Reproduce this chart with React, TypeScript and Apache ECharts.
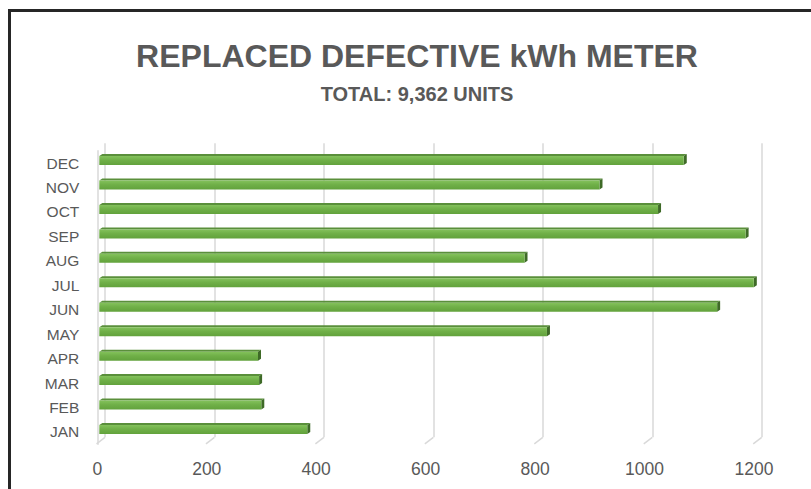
import React, { useEffect, useRef } from "react";
import * as echarts from "echarts";

const months = ["JAN", "FEB", "MAR", "APR", "MAY", "JUN", "JUL", "AUG", "SEP", "OCT", "NOV", "DEC"];
const units = [380, 296, 292, 290, 818, 1129, 1196, 777, 1181, 1021, 914, 1068];
const ticks = [0, 200, 400, 600, 800, 1000, 1200];
const titleText = "REPLACED DEFECTIVE kWh METER";
const subtitleText = "TOTAL: 9,362 UNITS";

const FONT = '"Liberation Sans", Arial, sans-serif';
const GRAY = "#595959";
const GRID_GRAY = "#d9d9d9";

export default function App() {
  const ref = useRef<HTMLDivElement>(null);
  useEffect(() => {
    if (!ref.current) return;
    const chart = echarts.init(ref.current, undefined, { renderer: "svg" });
    const depthX = 8.5;
    const depthY = 6.5;
    const option: any = {
      animation: false,
      backgroundColor: "#ffffff",
      graphic: [
        {
          type: "rect",
          shape: { x: 9.5, y: 10.5, width: 815, height: 500 },
          style: { fill: "none", stroke: "#262626", lineWidth: 3 },
          z: 100,
        },
        {
          type: "text",
          x: 417,
          y: 56,
          style: {
            text: titleText,
            font: `bold 32px ${FONT}`,
            fill: GRAY,
            align: "center",
            verticalAlign: "middle",
            textAlign: "center",
            textVerticalAlign: "middle",
          },
        },
        {
          type: "text",
          x: 417,
          y: 94,
          style: {
            text: subtitleText,
            font: `bold 20px ${FONT}`,
            fill: GRAY,
            align: "center",
            verticalAlign: "middle",
            textAlign: "center",
            textVerticalAlign: "middle",
          },
        },
      ],
      grid: [
        { left: 105, top: 143.3, width: 656.7, height: 294 },
        { left: 99.3, top: 148.3, width: 656.7, height: 293.4 },
        { left: 97.3, top: 150.8, width: 656.7, height: 293.4 },
      ],
      xAxis: [
        {
          gridIndex: 0,
          type: "value",
          min: 0,
          max: 1200,
          interval: 200,
          axisLabel: { show: false },
          axisLine: { show: false },
          axisTick: { show: false },
          splitLine: { show: true, lineStyle: { color: GRID_GRAY, width: 1.5 } },
        },
        {
          gridIndex: 1,
          type: "value",
          min: 0,
          max: 1200,
          interval: 200,
          axisLabel: { show: false },
          axisLine: { show: false },
          axisTick: { show: false },
          splitLine: { show: false },
        },
        {
          gridIndex: 2,
          type: "value",
          min: 0,
          max: 1200,
          interval: 200,
          axisLabel: {
            show: true,
            color: GRAY,
            fontSize: 17.5,
            fontFamily: FONT,
            margin: 16,
            formatter: (v: number) => String(v),
          },
          axisLine: { show: false },
          axisTick: { show: false },
          splitLine: { show: false },
        },
      ],
      yAxis: [
        { gridIndex: 0, type: "value", min: 0, max: 1, show: false },
        { gridIndex: 1, type: "category", data: months, show: false },
        {
          gridIndex: 2,
          type: "category",
          data: months,
          axisLine: { show: true, lineStyle: { color: GRID_GRAY, width: 1.5 } },
          axisTick: { show: false },
          splitLine: { show: false },
          axisLabel: { color: GRAY, fontSize: 15.5, fontFamily: FONT, margin: 18 },
        },
      ],
      series: [
        {
          type: "custom",
          name: "floor",
          xAxisIndex: 0,
          yAxisIndex: 0,
          silent: true,
          data: ticks.map((t) => [t, 0]),
          renderItem: (_params: any, api: any) => {
            const p = api.coord([api.value(0), 0]);
            return {
              type: "line",
              shape: { x1: p[0], y1: p[1], x2: p[0] - depthX, y2: p[1] + depthY },
              style: { stroke: GRID_GRAY, lineWidth: 1.5 },
            };
          },
        },
        {
          type: "bar",
          name: "Units",
          xAxisIndex: 1,
          yAxisIndex: 1,
          data: units,
          barWidth: 9,
          itemStyle: {
            color: new echarts.graphic.LinearGradient(0, 0, 0, 1, [
              { offset: 0, color: "#84c25c" },
              { offset: 0.45, color: "#70b048" },
              { offset: 1, color: "#62a23c" },
            ]),
          },
        },
        {
          type: "custom",
          name: "faces",
          xAxisIndex: 1,
          yAxisIndex: 1,
          silent: true,
          data: units.map((v, i) => [v, i]),
          renderItem: (_params: any, api: any) => {
            const v = api.value(0);
            const c = api.value(1);
            const p0 = api.coord([0, c]);
            const p1 = api.coord([v, c]);
            const h = 9;
            const dx = 3;
            const dy = 2;
            const yt = p1[1] - h / 2;
            const yb = p1[1] + h / 2;
            const x0 = p0[0];
            const x1 = p1[0];
            return {
              type: "group",
              children: [
                {
                  type: "polygon",
                  shape: { points: [[x0, yt], [x0 + dx, yt - dy], [x1 + dx, yt - dy], [x1, yt]] },
                  style: { fill: "#5a8f3b" },
                },
                {
                  type: "polygon",
                  shape: { points: [[x1, yt], [x1 + dx, yt - dy], [x1 + dx, yb - dy], [x1, yb]] },
                  style: { fill: "#3e6a27" },
                },
              ],
            };
          },
        },
      ],
    };
    chart.setOption(option);
    return () => chart.dispose();
  }, []);
  return (
    <div
      ref={ref}
      style={{ position: "fixed", left: 0, top: 0, width: 811, height: 489, background: "#fff" }}
    />
  );
}
